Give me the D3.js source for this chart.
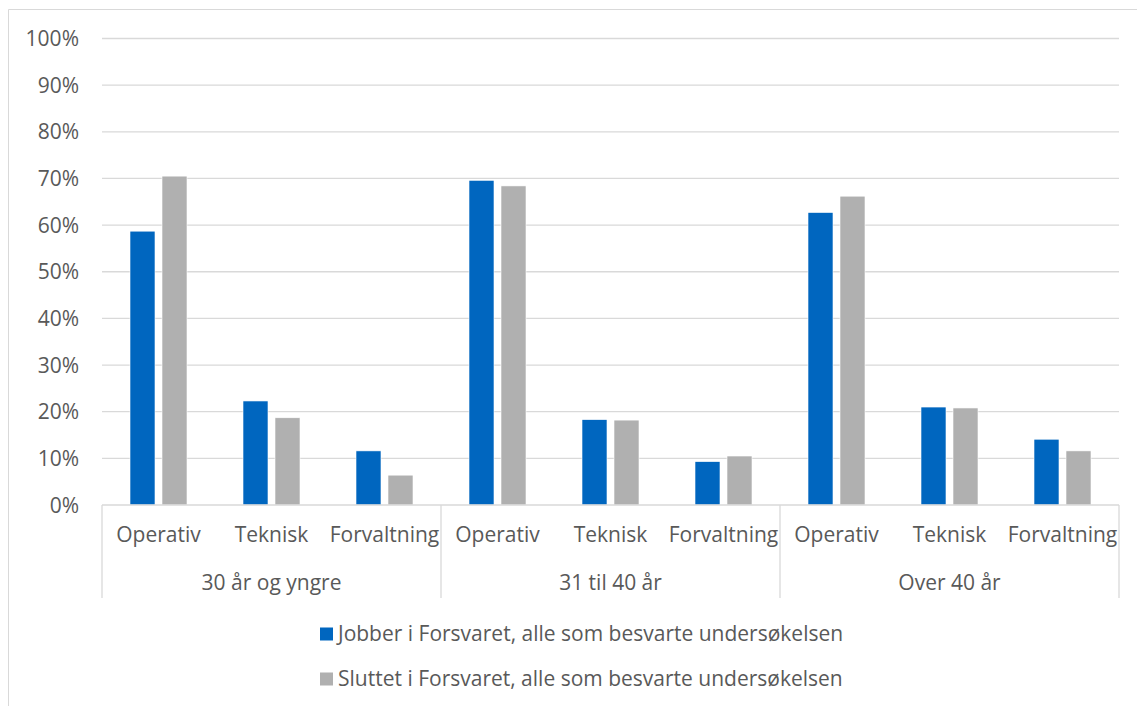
<!DOCTYPE html>
<html>
<head>
<meta charset="utf-8">
<script src="https://cdn.jsdelivr.net/npm/d3@7/dist/d3.min.js"></script>
<style>
  html, body { margin: 0; padding: 0; background: #fff; }
  svg { display: block; font-family: "Open Sans", sans-serif; }
</style>
</head>
<body>
<svg id="chart" width="1137" height="706"></svg>
<script>
const groups = ["30 år og yngre", "31 til 40 år", "Over 40 år"];
const categories = ["Operativ", "Teknisk", "Forvaltning"];
const seriesNames = [
  "Jobber i Forsvaret, alle som besvarte undersøkelsen",
  "Sluttet i Forsvaret, alle som besvarte undersøkelsen"
];
// values in %, ordered group by group, category by category
const jobber  = [58.7, 22.3, 11.6, 69.6, 18.3, 9.3, 62.7, 21.0, 14.1];
const sluttet = [70.5, 18.7, 6.4, 68.4, 18.2, 10.5, 66.2, 20.8, 11.6];
const yTicks = [0, 10, 20, 30, 40, 50, 60, 70, 80, 90, 100];

const colors = ["#0066BF", "#B0B0B0"];
const textColor = "#595959";
const gridColor = "#D9D9D9";
const fontSize = "21px";

const svg = d3.select("#chart");
const W = 1137, H = 706;
const plot = { left: 102, right: 1119, top: 38.5, bottom: 505 };

// outer chart frame (top and left edges visible)
svg.append("line").attr("x1", 8.5).attr("x2", W).attr("y1", 9.5).attr("y2", 9.5)
  .attr("stroke", gridColor).attr("stroke-width", 1);
svg.append("line").attr("x1", 8.5).attr("x2", 8.5).attr("y1", 9.5).attr("y2", H)
  .attr("stroke", gridColor).attr("stroke-width", 1);

const y = d3.scaleLinear().domain([0, 100]).range([plot.bottom, plot.top]);
const xGroup = d3.scaleBand().domain(groups).range([plot.left, plot.right]);
const xCat = d3.scaleBand().domain(categories).range([0, xGroup.bandwidth()]);
const xSeries = d3.scaleBand().domain([0, 1]).range([0, xCat.bandwidth()])
  .paddingInner(7 / 32).paddingOuter(0.875);

// gridlines
svg.append("g").selectAll("line").data(yTicks.filter(t => t > 0)).join("line")
  .attr("x1", plot.left).attr("x2", plot.right)
  .attr("y1", d => y(d)).attr("y2", d => y(d))
  .attr("stroke", gridColor).attr("stroke-width", 1.3);

// y axis labels
const yAxis = d3.axisLeft(y).tickValues(yTicks).tickFormat(d => d + "%").tickSize(0).tickPadding(0);
const yg = svg.append("g").attr("transform", `translate(79,0)`).call(yAxis);
yg.select(".domain").remove();
yg.selectAll("text").attr("fill", textColor).attr("font-size", fontSize)
  .attr("font-family", "Open Sans, sans-serif").attr("dy", "0.34em");

// data rows
const rows = [];
groups.forEach((g, gi) => {
  categories.forEach((c, ci) => {
    const idx = gi * categories.length + ci;
    [jobber[idx], sluttet[idx]].forEach((v, si) => rows.push({ g, c, si, v }));
  });
});

svg.append("g").selectAll("rect").data(rows).join("rect")
  .attr("x", d => xGroup(d.g) + xCat(d.c) + xSeries(d.si))
  .attr("width", xSeries.bandwidth())
  .attr("y", d => y(d.v))
  .attr("height", d => y(0) - y(d.v))
  .attr("fill", d => colors[d.si])
  .attr("stroke", "#ffffff").attr("stroke-width", 0.6);

// x axis line
svg.append("line").attr("x1", plot.left).attr("x2", plot.right)
  .attr("y1", plot.bottom).attr("y2", plot.bottom)
  .attr("stroke", gridColor).attr("stroke-width", 1.3);

// group separators
const sepX = groups.map(g => xGroup(g)).concat([plot.right]);
svg.append("g").selectAll("line").data(sepX).join("line")
  .attr("x1", d => d).attr("x2", d => d)
  .attr("y1", plot.bottom).attr("y2", 598)
  .attr("stroke", gridColor).attr("stroke-width", 1.3);

// category labels
const catLabels = [];
groups.forEach(g => categories.forEach(c => catLabels.push({ g, c })));
svg.append("g").selectAll("text").data(catLabels).join("text")
  .attr("x", d => xGroup(d.g) + xCat(d.c) + xCat.bandwidth() / 2)
  .attr("y", 535).attr("dy", "0.35em")
  .attr("text-anchor", "middle").attr("fill", textColor).attr("font-size", fontSize)
  .text(d => d.c);

// group labels
svg.append("g").selectAll("text").data(groups).join("text")
  .attr("x", d => xGroup(d) + xGroup.bandwidth() / 2)
  .attr("y", 583).attr("dy", "0.35em")
  .attr("text-anchor", "middle").attr("fill", textColor).attr("font-size", fontSize)
  .text(d => d);

// legend
const legend = svg.append("g").selectAll("g").data(seriesNames).join("g")
  .attr("transform", (d, i) => `translate(320,${634 + i * 45})`);
legend.append("rect").attr("x", 0).attr("y", -6.5).attr("width", 13).attr("height", 13)
  .attr("fill", (d, i) => colors[i]);
legend.append("text").attr("x", 18).attr("y", 0).attr("dy", "0.35em")
  .attr("fill", textColor).attr("font-size", fontSize).text(d => d);
</script>
</body>
</html>
